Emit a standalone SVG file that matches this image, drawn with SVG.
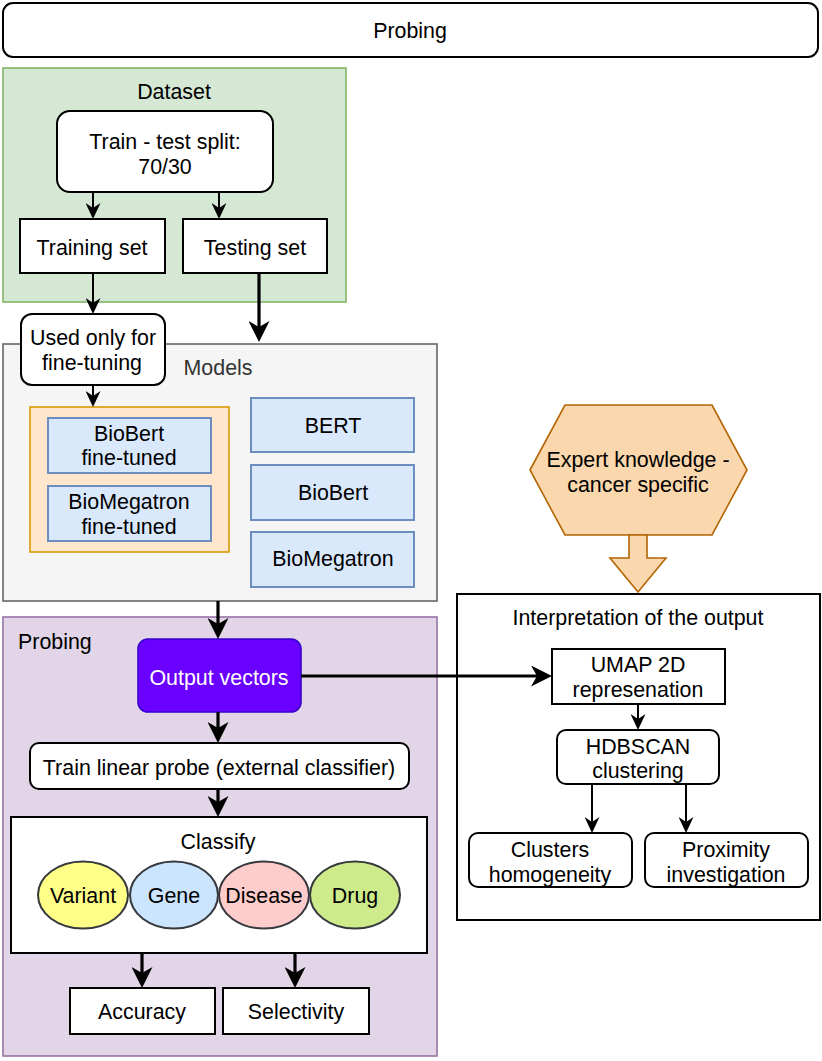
<svg xmlns="http://www.w3.org/2000/svg" width="822" height="1061" viewBox="0 0 822 1061">
<style>
text{font-family:"Liberation Sans",Arial,sans-serif;font-size:21.4px;fill:#000;text-anchor:middle;dominant-baseline:central}
.wb{fill:#fff;stroke:#000;stroke-width:2}
.blue{fill:#dae8fc;stroke:#6c8ebf;stroke-width:2}
.thin{stroke:#000;stroke-width:2;fill:none;marker-end:url(#ah)}
.thick{stroke:#000;stroke-width:3.2;fill:none;marker-end:url(#ahb)}
.ell{stroke:#36393d;stroke-width:2}
</style>
<defs>
<marker id="ah" markerUnits="userSpaceOnUse" markerWidth="16" markerHeight="15" viewBox="0 0 16 15" refX="5" refY="7.5" orient="auto">
<path d="M0,0 L16,7.5 L0,15 L5,7.5 z" fill="#000"/>
</marker>
<marker id="ahb" markerUnits="userSpaceOnUse" markerWidth="21" markerHeight="21" viewBox="0 0 21 21" refX="6" refY="10.5" orient="auto">
<path d="M0,0 L21,10.5 L0,21 L6,10.5 z" fill="#000"/>
</marker>
</defs>
<rect width="822" height="1061" fill="#fff"/>

<g id="probing-title">
<rect x="3" y="3" width="815" height="54" rx="10" class="wb" stroke-width="1.6"/>
<text x="410" y="31">Probing</text>
</g>

<g id="dataset">
<rect x="3" y="68" width="343" height="234" fill="#d5e8d4" stroke="#82b366" stroke-width="1.6"/>
<text x="174" y="92">Dataset</text>
</g>
<g id="split">
<rect x="57" y="111" width="216" height="81" rx="13" class="wb"/>
<text x="165" y="142">Train - test split:</text>
<text x="165" y="167">70/30</text>
</g>
<g id="training">
<rect x="20" y="219" width="145" height="54" class="wb"/>
<text x="92" y="248">Training set</text>
</g>
<g id="testing">
<rect x="183" y="219" width="144" height="54" class="wb"/>
<text x="255" y="248">Testing set</text>
</g>

<g id="models">
<rect x="3" y="344" width="434" height="257" fill="#f5f5f5" stroke="#666666" stroke-width="1.6"/>
<text x="218" y="368" style="fill:#333333">Models</text>
</g>
<g id="used-only">
<rect x="21" y="314" width="144" height="71" rx="11" class="wb"/>
<text x="93" y="338">Used only for</text>
<text x="92" y="363">fine-tuning</text>
</g>
<g id="finetuned-group">
<rect x="30" y="407" width="199" height="145" fill="#ffe6cc" stroke="#d79b00" stroke-width="1.6"/>
</g>
<g id="biobert-ft">
<rect x="48" y="418" width="163" height="55" class="blue"/>
<text x="129" y="434">BioBert</text>
<text x="129" y="458">fine-tuned</text>
</g>
<g id="biomegatron-ft">
<rect x="48" y="486" width="163" height="55" class="blue"/>
<text x="129" y="502">BioMegatron</text>
<text x="129" y="527">fine-tuned</text>
</g>
<g id="bert">
<rect x="251" y="398" width="163" height="54" class="blue"/>
<text x="333" y="426">BERT</text>
</g>
<g id="biobert">
<rect x="251" y="465" width="163" height="55" class="blue"/>
<text x="333" y="493">BioBert</text>
</g>
<g id="biomegatron">
<rect x="251" y="532" width="163" height="55" class="blue"/>
<text x="333" y="559">BioMegatron</text>
</g>

<g id="probing">
<rect x="3" y="617" width="434" height="439" fill="#e1d5e7" stroke="#9673a6" stroke-width="1.6"/>
<text x="18" y="642" style="text-anchor:start">Probing</text>
</g>
<g id="output-vectors">
<rect x="138" y="639" width="163" height="73" rx="10" fill="#6a00ff" stroke="#3700cc" stroke-width="1.6"/>
<text x="219" y="678" style="fill:#fff">Output vectors</text>
</g>
<g id="train-probe">
<rect x="30" y="743" width="379" height="46" rx="9" class="wb"/>
<text x="219" y="768">Train linear probe (external classifier)</text>
</g>
<g id="classify">
<rect x="11" y="817" width="416" height="136" class="wb"/>
<text x="218" y="842">Classify</text>
</g>
<g id="variant">
<ellipse cx="83" cy="895" rx="45" ry="33.5" fill="#ffff88" class="ell"/>
<text x="83" y="896">Variant</text>
</g>
<g id="gene">
<ellipse cx="174" cy="895" rx="44" ry="33.5" fill="#cce5ff" class="ell"/>
<text x="174" y="896">Gene</text>
</g>
<g id="disease">
<ellipse cx="264" cy="895" rx="45" ry="33.5" fill="#ffcccc" class="ell"/>
<text x="264" y="896">Disease</text>
</g>
<g id="drug">
<ellipse cx="355" cy="895" rx="45" ry="33.5" fill="#cdeb8b" class="ell"/>
<text x="355" y="896">Drug</text>
</g>
<g id="accuracy">
<rect x="70" y="988" width="145" height="46" class="wb"/>
<text x="142" y="1012">Accuracy</text>
</g>
<g id="selectivity">
<rect x="223" y="988" width="146" height="46" class="wb"/>
<text x="296" y="1012">Selectivity</text>
</g>

<g id="expert">
<polygon points="530,470 565,405 712,405 747,470 712,535 565,535" fill="#fad7ac" stroke="#b46504" stroke-width="1.6"/>
<text x="638" y="460">Expert knowledge -</text>
<text x="638" y="485">cancer specific</text>
</g>
<g id="interpretation">
<rect x="457" y="594" width="363" height="326" class="wb"/>
<text x="638" y="618">Interpretation of the output</text>
</g>
<g id="umap">
<rect x="552" y="649" width="173" height="55" class="wb"/>
<text x="638" y="665">UMAP 2D</text>
<text x="638" y="690">represenation</text>
</g>
<g id="hdbscan">
<rect x="557" y="730" width="162" height="54" rx="9" class="wb"/>
<text x="638" y="747">HDBSCAN</text>
<text x="638" y="771">clustering</text>
</g>
<g id="clusters">
<rect x="469" y="833" width="163" height="54" rx="9" class="wb"/>
<text x="550" y="850">Clusters</text>
<text x="550" y="875">homogeneity</text>
</g>
<g id="proximity">
<rect x="645" y="833" width="163" height="54" rx="9" class="wb"/>
<text x="726" y="850">Proximity</text>
<text x="726" y="875">investigation</text>
</g>

<g id="connectors">
<line x1="93" y1="192" x2="93" y2="208" class="thin"/>
<line x1="219" y1="192" x2="219" y2="208" class="thin"/>
<line x1="93" y1="273" x2="93" y2="303" class="thin"/>
<line x1="259" y1="273" x2="259" y2="327" class="thick"/>
<line x1="93" y1="385" x2="93" y2="396" class="thin"/>
<line x1="218" y1="601" x2="218" y2="624" class="thick"/>
<line x1="301" y1="676" x2="537" y2="676" class="thick"/>
<line x1="218" y1="712" x2="218" y2="728" class="thick"/>
<line x1="218" y1="789" x2="218" y2="802" class="thick"/>
<line x1="142" y1="953" x2="142" y2="973" class="thick"/>
<line x1="295" y1="953" x2="295" y2="973" class="thick"/>
<line x1="638" y1="704" x2="638" y2="719" class="thin"/>
<line x1="592" y1="784" x2="592" y2="822" class="thin"/>
<line x1="686" y1="784" x2="686" y2="822" class="thin"/>
<polygon points="629,535 647,535 647,558 666,558 638,592 610,558 629,558" fill="#fad7ac" stroke="#b46504" stroke-width="1.6"/>
</g>
</svg>
